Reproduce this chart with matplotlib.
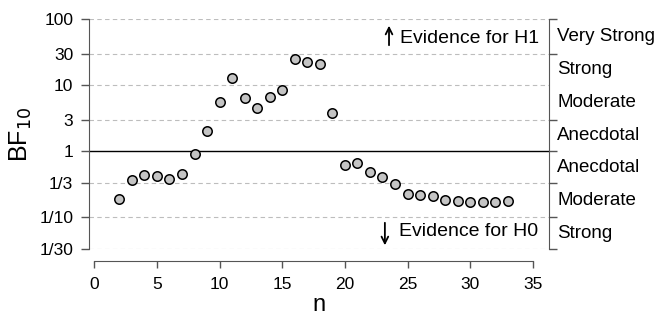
import matplotlib.pyplot as plt
import numpy as np

plt.rcParams['font.family'] = ['Liberation Sans', 'DejaVu Sans']

# sequential Bayes factor values
n = list(range(2, 34))
bf10 = [0.187, 0.371, 0.431, 0.416, 0.384, 0.447, 0.912, 2.03, 5.50, 12.7,
        6.31, 4.54, 6.57, 8.36, 24.9, 22.3, 21.0, 3.73, 0.617, 0.676,
        0.494, 0.412, 0.316, 0.227, 0.222, 0.214, 0.182, 0.179, 0.174, 0.174,
        0.174, 0.179]

y_ticks = [1/30, 1/10, 1/3, 1, 3, 10, 30, 100]
y_ticklabels = ['1/30', '1/10', '1/3', '1', '3', '10', '30', '100']
x_ticks = [0, 5, 10, 15, 20, 25, 30, 35]

evidence_bounds = [100, 30, 3, 1, 1/3, 1/10, 1/30]
evidence_labels = ['Very Strong', 'Strong', 'Moderate', 'Anecdotal',
                   'Anecdotal', 'Moderate', 'Strong']
evidence_centers = [np.sqrt(100*30), np.sqrt(30*10), np.sqrt(10*3), np.sqrt(3),
                    np.sqrt(1/3), np.sqrt(1/30), np.sqrt(1/300)]

AX_COL = '#555555'

def main():
    fig = plt.figure(figsize=(6.6, 3.21), dpi=100)
    ax = fig.add_axes([0.1353, 0.2243, 0.6965, 0.7165])
    ax.set_yscale('log')
    ax.set_ylim(1/30, 100)
    ax.set_xlim(-0.4, 36.29)

    for yv in y_ticks:
        if yv == 1:
            ax.axhline(yv, color='black', lw=1.0, zorder=1)
        else:
            ax.axhline(yv, color='#bdbdbd', lw=0.8, ls=(0, (4, 3)), zorder=1)

    ax.plot(n, bf10, 'o', ms=6.8, mfc='#c4c4c4', mec='black', mew=1.1,
            zorder=3, clip_on=False)

    for side in ['top', 'right']:
        ax.spines[side].set_visible(False)
    ax.spines['left'].set_color(AX_COL)
    ax.spines['bottom'].set_color(AX_COL)
    ax.spines['bottom'].set_position(('outward', 8.4))
    ax.spines['bottom'].set_bounds(0, 35)

    ax.set_yticks(y_ticks)
    ax.set_yticklabels(y_ticklabels)
    ax.minorticks_off()
    ax.set_xticks(x_ticks)
    ax.tick_params(axis='y', length=6, width=1, color=AX_COL, pad=5.5,
                   labelsize=12.5)
    ax.tick_params(axis='x', length=5, width=1, color=AX_COL, pad=7,
                   labelsize=12.5)
    ax.set_xlabel('n', fontsize=17, labelpad=1.5)
    ax.set_ylabel('BF$_{10}$', fontsize=18, labelpad=4)

    # evidence bracket on the right
    ax2 = ax.twinx()
    ax2.set_yscale('log')
    ax2.set_ylim(1/30, 100)
    ax2.minorticks_off()
    ax2.set_yticks(evidence_bounds)
    ax2.set_yticklabels([])
    ax2.tick_params(axis='y', length=6, width=1, color=AX_COL)
    for side in ['top', 'left', 'bottom']:
        ax2.spines[side].set_visible(False)
    ax2.spines['right'].set_color(AX_COL)
    for lab, yc in zip(evidence_labels, evidence_centers):
        ax2.annotate(lab, xy=(1, yc), xycoords=('axes fraction', 'data'),
                     xytext=(6, 0), textcoords='offset points',
                     ha='left', va='center', fontsize=13.5)

    # evidence direction annotations
    ax.annotate('', xy=(0.652, 0.983), xytext=(0.652, 0.874),
                xycoords='axes fraction',
                arrowprops=dict(arrowstyle='->', lw=1.3, color='black',
                                mutation_scale=12))
    ax.text(0.676, 0.917, 'Evidence for H1', transform=ax.transAxes,
            ha='left', va='center', fontsize=14)
    ax.annotate('', xy=(0.643, 0.004), xytext=(0.643, 0.126),
                xycoords='axes fraction',
                arrowprops=dict(arrowstyle='->', lw=1.3, color='black',
                                mutation_scale=12))
    ax.text(0.674, 0.076, 'Evidence for H0', transform=ax.transAxes,
            ha='left', va='center', fontsize=14)

    fig.savefig('out.png', dpi=100)

if __name__ == "__main__":
    main()
